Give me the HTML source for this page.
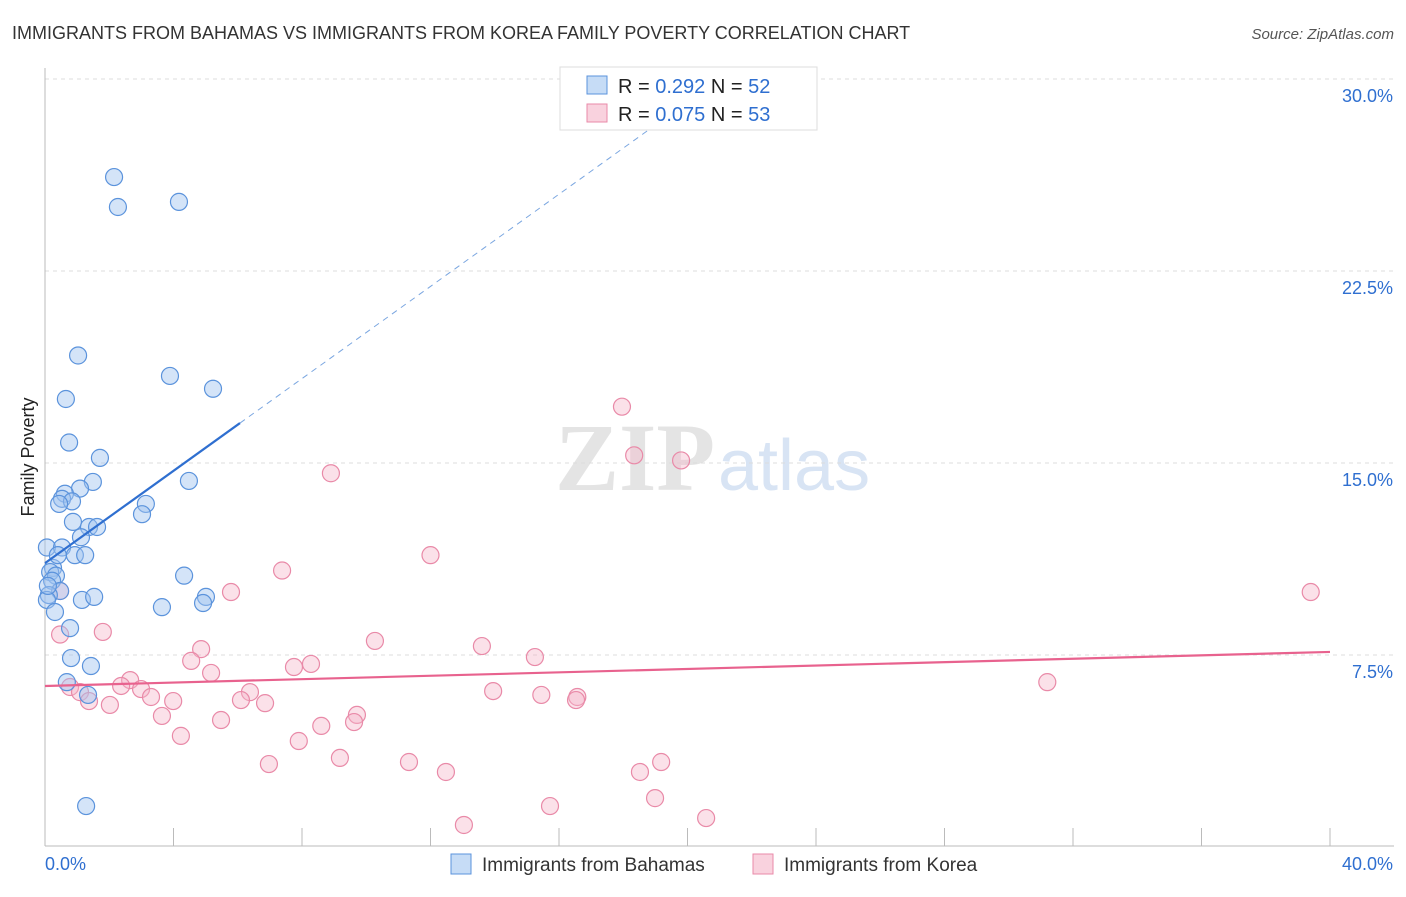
<!DOCTYPE html>
<html><head><meta charset="utf-8"><style>
body{margin:0;background:#fff;font-family:"Liberation Sans",sans-serif}
</style></head><body>
<svg id="c" width="1406" height="892" xmlns="http://www.w3.org/2000/svg">
<text x="12" y="39" font-size="18" fill="#333">IMMIGRANTS FROM BAHAMAS VS IMMIGRANTS FROM KOREA FAMILY POVERTY CORRELATION CHART</text>
<text x="1394" y="39" font-size="15" fill="#555" font-style="italic" text-anchor="end">Source: ZipAtlas.com</text>
<text x="34" y="457" font-size="18" fill="#222" text-anchor="middle" transform="rotate(-90 34 457)">Family Poverty</text>
<text x="555" y="490" font-size="96" fill="#e4e4e4" font-family="Liberation Serif,serif" font-weight="bold">ZIP</text>
<text x="718" y="490" font-size="72" fill="#d8e4f4">atlas</text>
<g id="grid"></g><g id="axes"></g><g id="pts"></g><g id="lines"></g>
<g>
<rect x="560" y="67" width="257" height="63" fill="#fff" stroke="#ddd"/>
<rect x="587" y="76" width="20" height="18" fill="rgba(160,196,240,0.6)" stroke="#5b93dc"/>
<rect x="587" y="104" width="20" height="18" fill="rgba(245,180,200,0.6)" stroke="#e98aa8"/>
<text x="618" y="93" font-size="20" fill="#222">R = <tspan fill="#2f6fd0">0.292</tspan>   N = <tspan fill="#2f6fd0">52</tspan></text>
<text x="618" y="121" font-size="20" fill="#222">R = <tspan fill="#2f6fd0">0.075</tspan>   N = <tspan fill="#2f6fd0">53</tspan></text>
</g>
<g>
<rect x="451" y="854" width="20" height="20" fill="rgba(160,196,240,0.6)" stroke="#5b93dc"/>
<text x="482" y="871" font-size="19" fill="#333">Immigrants from Bahamas</text>
<rect x="753" y="854" width="20" height="20" fill="rgba(245,180,200,0.6)" stroke="#e98aa8"/>
<text x="784" y="871" font-size="19" fill="#333">Immigrants from Korea</text>
</g>
</svg>
<script>
const blueX=[2.15,2.27,4.17,1.03,3.89,5.23,0.65,0.75,1.71,4.48,1.49,1.09,0.62,0.53,0.84,0.44,3.14,3.02,0.87,1.37,1.62,1.12,0.06,0.53,0.93,1.25,0.25,0.16,0.34,4.33,0.22,0.47,0.12,0.06,1.15,1.53,5.01,4.92,3.64,0.31,0.78,0.81,1.43,0.68,1.34,1.28,0.09,0.4];
const blueY=[26.17,25.0,25.2,19.2,18.4,17.9,17.5,15.8,15.2,14.3,14.26,14.0,13.8,13.6,13.5,13.4,13.4,13.0,12.7,12.5,12.5,12.1,11.7,11.7,11.4,11.4,10.9,10.74,10.6,10.6,10.4,10.0,9.84,9.65,9.65,9.77,9.77,9.53,9.37,9.18,8.55,7.38,7.07,6.44,5.94,1.6,10.2,11.4];
const pinkX=[17.96,18.34,19.8,8.9,12.0,7.38,39.4,5.79,0.47,1.8,0.47,10.27,13.6,4.86,15.25,4.55,8.28,7.75,5.17,31.2,2.65,2.37,0.78,2.99,1.09,13.95,6.38,3.3,15.45,16.57,16.53,6.1,3.99,1.37,2.02,6.85,3.64,9.71,5.48,9.62,8.6,4.23,7.9,9.18,6.97,11.33,12.48,19.18,18.52,18.99,15.72,13.04,20.58];
const pinkY=[17.2,15.3,15.1,14.6,11.4,10.8,9.96,9.96,10.0,8.4,8.3,8.05,7.85,7.73,7.42,7.27,7.15,7.03,6.8,6.44,6.52,6.29,6.25,6.17,6.05,6.09,6.05,5.86,5.94,5.86,5.74,5.74,5.7,5.7,5.55,5.62,5.12,5.16,4.96,4.88,4.73,4.34,4.14,3.48,3.24,3.32,2.93,3.32,2.93,1.91,1.6,0.86,1.13];
const yTicks=[7.5,15,22.5,30];
const yTickLabels=["7.5%","15.0%","22.5%","30.0%"];
const blueTrend=[0,11.09,6.07,16.56,19.5,28.65];
const pinkTrend=[0,6.29,40,7.62];
const NS="http://www.w3.org/2000/svg";
const sx=v=>45+v/40*1285, sy=v=>847-v/7.5*192;
function mk(t,a,p){const e=document.createElementNS(NS,t);for(const k in a)e.setAttribute(k,a[k]);p.appendChild(e);return e;}
const grid=document.getElementById('grid'),axes=document.getElementById('axes');
yTicks.forEach((t,i)=>{
 const l=mk('line',{x1:45,x2:1394,y1:sy(t),y2:sy(t),stroke:'#ddd','stroke-dasharray':'4,4'},grid);
 
 
 const tx=mk('text',{x:1393,y:sy(t)+23,'font-size':18,fill:'#2f6fd0','text-anchor':'end'},axes);
 tx.textContent=yTickLabels[i];
 
 
});
const ya=mk('line',{x1:45,x2:45,y1:68,y2:846,stroke:'#bbb'},axes);


const xa=mk('line',{x1:45,x2:1394,y1:846,y2:846,stroke:'#bbb'},axes);


for(let i=1;i<=10;i++){const tk=mk('line',{x1:45+i*128.5,x2:45+i*128.5,y1:828,y2:846,stroke:'#bbb'},axes);
 
 }
[["0.0%",45,'start'],["40.0%",1393,'end']].forEach(a=>{const t=mk('text',{x:a[1],y:870,'font-size':18,fill:'#2f6fd0','text-anchor':a[2]},axes);t.textContent=a[0];
 
 });
const pts=document.getElementById('pts');
pinkX.forEach((x,i)=>{const c=mk('circle',{cx:sx(x),cy:sy(pinkY[i]),r:8.5,fill:'rgba(245,180,200,0.4)',stroke:'#e98aa8','stroke-width':1.2},pts);
 
 });
blueX.forEach((x,i)=>{const c=mk('circle',{cx:sx(x),cy:sy(blueY[i]),r:8.5,fill:'rgba(160,196,240,0.45)',stroke:'#5b93dc','stroke-width':1.2},pts);
 
 });
const lines=document.getElementById('lines');
const b1=mk('line',{x1:sx(blueTrend[0]),y1:sy(blueTrend[1]),x2:sx(blueTrend[2]),y2:sy(blueTrend[3]),stroke:'#2f6fd0','stroke-width':2.2},lines);


const b2=mk('line',{x1:sx(blueTrend[2]),y1:sy(blueTrend[3]),x2:sx(blueTrend[4]),y2:sy(blueTrend[5]),stroke:'#7aa6e0','stroke-width':1,'stroke-dasharray':'6,5'},lines);


const p1=mk('line',{x1:sx(pinkTrend[0]),y1:sy(pinkTrend[1]),x2:sx(pinkTrend[2]),y2:sy(pinkTrend[3]),stroke:'#e8628e','stroke-width':2.2},lines);


</script>
</body></html>
